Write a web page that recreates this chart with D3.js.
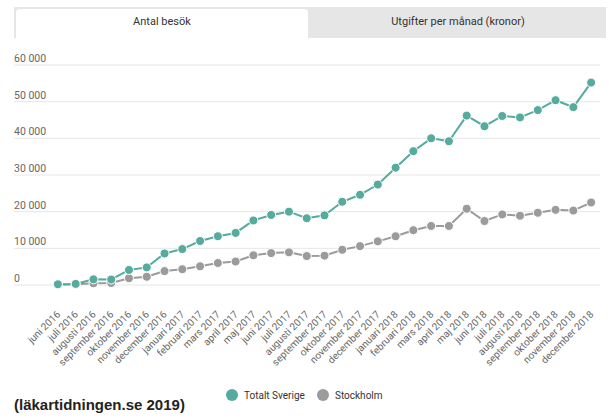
<!DOCTYPE html>
<html>
<head>
<meta charset="utf-8">
<script src="https://cdn.jsdelivr.net/npm/d3@7"></script>
<style>
  body { margin: 0; background: #fff; }
  svg { display: block; font-family: Roboto, "Noto Sans", sans-serif; }
</style>
</head>
<body>
<div id="chart"></div>
<script>
const MONTHS = [
  "juni 2016", "juli 2016", "augusti 2016", "september 2016", "oktober 2016", "november 2016",
  "december 2016", "januari 2017", "februari 2017", "mars 2017", "april 2017", "maj 2017",
  "juni 2017", "juli 2017", "augusti 2017", "september 2017", "oktober 2017", "november 2017",
  "december 2017", "januari 2018", "februari 2018", "mars 2018", "april 2018", "maj 2018",
  "juni 2018", "juli 2018", "augusti 2018", "september 2018", "oktober 2018", "november 2018",
  "december 2018"
]
const SVERIGE = [
  200, 300, 1550, 1500, 4100, 4800, 8600, 9800, 12000, 13300, 14200, 17600,
  19100, 20000, 18200, 19000, 22700, 24600, 27400, 32000, 36500, 40000, 39200, 46200,
  43300, 46100, 45700, 47700, 50400, 48500, 55200
]
const STOCKHOLM = [
  100, 200, 460, 540, 1850, 2250, 3800, 4300, 5100, 6000, 6400, 8100,
  8700, 8900, 7900, 8000, 9600, 10600, 11900, 13300, 14950, 16100, 16100, 20800,
  17450, 19250, 18900, 19700, 20500, 20300, 22500
]
const Y_TICKS = [0, 10000, 20000, 30000, 40000, 50000, 60000]
const TABS = ["Antal besök", "Utgifter per månad (kronor)"]
const SERIES = [
  { name: "Totalt Sverige", values: SVERIGE, color: "#55ab9e" },
  { name: "Stockholm", values: STOCKHOLM, color: "#9b9b9b" }
]

const width = 609
const height = 418

const svg = d3.select("#chart").append("svg")
  .attr("width", width)
  .attr("height", height)

// Tab bar
svg.append("rect")
  .attr("x", 14).attr("y", 7)
  .attr("width", 592).attr("height", 31)
  .attr("fill", "#e6e6e6")
svg.append("path")
  .attr("d", "M16,38 V13 Q16,9 20,9 H304 Q308,9 308,13 V38 Z")
  .attr("fill", "#fff")

const tabX = d3.scaleBand().domain(TABS).range([14, 606])
svg.selectAll(".tab-label")
  .data(TABS)
  .enter()
  .append("text")
  .attr("class", "tab-label")
  .attr("x", d => tabX(d) + tabX.bandwidth() / 2)
  .attr("y", 25)
  .attr("text-anchor", "middle")
  .attr("font-size", "11px")
  .attr("fill", "#333")
  .text(d => d)

// Scales
const x = d3.scalePoint().domain(MONTHS).range([49, 600]).padding(0.5)
const y = d3.scaleLinear().domain([0, 60000]).range([285, 65])

// Grid + y labels
const fmt = v => d3.format(",")(v).replace(/,/g, " ")
svg.selectAll(".grid")
  .data(Y_TICKS)
  .enter()
  .append("line")
  .attr("class", "grid")
  .attr("x1", 14).attr("x2", 600)
  .attr("y1", d => y(d)).attr("y2", d => y(d))
  .attr("stroke", "#e6e6e6")
  .attr("stroke-width", 1)

svg.selectAll(".y-label")
  .data(Y_TICKS)
  .enter()
  .append("text")
  .attr("class", "y-label")
  .attr("x", 14)
  .attr("y", d => y(d) - 3)
  .attr("font-size", "10.5px")
  .attr("fill", "#666")
  .text(fmt)

// X labels
svg.selectAll(".x-label")
  .data(MONTHS)
  .enter()
  .append("text")
  .attr("class", "x-label")
  .attr("text-anchor", "end")
  .attr("font-size", "10px")
  .attr("fill", "#666")
  .attr("transform", d => `translate(${x(d) + 3},${315}) rotate(-45)`)
  .text(d => d)

// Lines and points
const line = d3.line()
  .x((_, i) => x(MONTHS[i]))
  .y(d => y(d))

for (const s of SERIES.slice().reverse()) {
  svg.append("path")
    .datum(s.values)
    .attr("d", line)
    .attr("fill", "none")
    .attr("stroke", s.color)
    .attr("stroke-width", 2)
}
for (const s of SERIES.slice().reverse()) {
  svg.selectAll(null)
    .data(s.values)
    .enter()
    .append("circle")
    .attr("cx", (_, i) => x(MONTHS[i]))
    .attr("cy", d => y(d))
    .attr("r", 4.5)
    .attr("fill", s.color)
    .attr("stroke", "#fff")
    .attr("stroke-width", 1)
}

// Legend
const legendX = d3.scaleOrdinal().domain(SERIES.map(s => s.name)).range([232, 323])
const legend = svg.selectAll(".legend")
  .data(SERIES)
  .enter()
  .append("g")
  .attr("class", "legend")
  .attr("transform", d => `translate(${legendX(d.name)},395)`)
legend.append("circle")
  .attr("r", 6)
  .attr("fill", d => d.color)
legend.append("text")
  .attr("x", 12)
  .attr("y", 3.5)
  .attr("font-size", "10px")
  .attr("fill", "#333")
  .text(d => d.name)

// Source
svg.append("text")
  .attr("x", 14)
  .attr("y", 410)
  .attr("font-family", "'Liberation Sans Narrow', 'Liberation Sans', sans-serif")
  .attr("font-weight", "bold")
  .attr("font-size", "15px")
  .attr("fill", "#222")
  .text("(läkartidningen.se 2019)")
</script>
</body>
</html>
